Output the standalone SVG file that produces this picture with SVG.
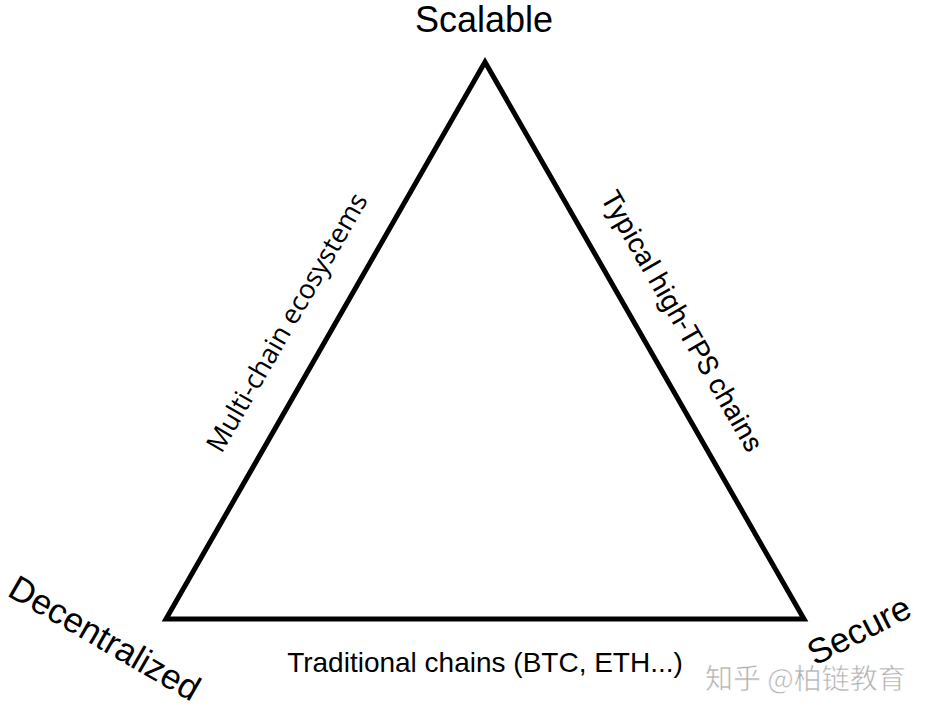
<svg xmlns="http://www.w3.org/2000/svg" width="928" height="716" viewBox="0 0 928 716">
<style>
.bg{fill:#ffffff}
.edge{fill:none;stroke:#000;stroke-width:5;stroke-linejoin:miter;stroke-linecap:square}
.corner{font-family:"Liberation Sans",Arial,sans-serif;font-size:35px;fill:#000}
.side{font-family:"Open Sans","Liberation Sans",sans-serif;font-size:27px;fill:#000}
.side2{font-family:Roboto,"Liberation Sans",sans-serif;font-size:28px;fill:#000}
.base{font-family:"Liberation Sans",Arial,sans-serif;font-size:28px;fill:#000}
.wm{font-family:"Noto Sans CJK SC","Liberation Sans",sans-serif;font-size:28px;fill:#b0b0b0;stroke:#ffffff;stroke-width:0.6}
</style>
<rect class="bg" x="0" y="0" width="928" height="716"/>
<g id="connectors">
<polygon class="edge" points="485,62 804,619 166,619"/>
</g>
<g id="scalable"><text class="corner" x="484" y="32" text-anchor="middle" style="font-size:36px">Scalable</text></g>
<g id="decentralized"><text class="corner" x="6" y="595" transform="rotate(30 6 595)">Decentralized</text></g>
<g id="watermark"><text class="wm" x="705" y="689">知乎 @柏链教育</text></g>
<g id="secure"><text class="corner" x="815" y="666" transform="rotate(-27 815 666)">Secure</text></g>
<g id="multi-chain"><text class="side" x="295" y="327" text-anchor="middle" transform="rotate(-60 295 327)">Multi-chain ecosystems</text></g>
<g id="high-tps"><text class="side2" x="674" y="326" text-anchor="middle" transform="rotate(60 674 326)">Typical high-TPS chains</text></g>
<g id="traditional"><text class="base" x="485" y="672" text-anchor="middle">Traditional chains (BTC, ETH...)</text></g>
</svg>
